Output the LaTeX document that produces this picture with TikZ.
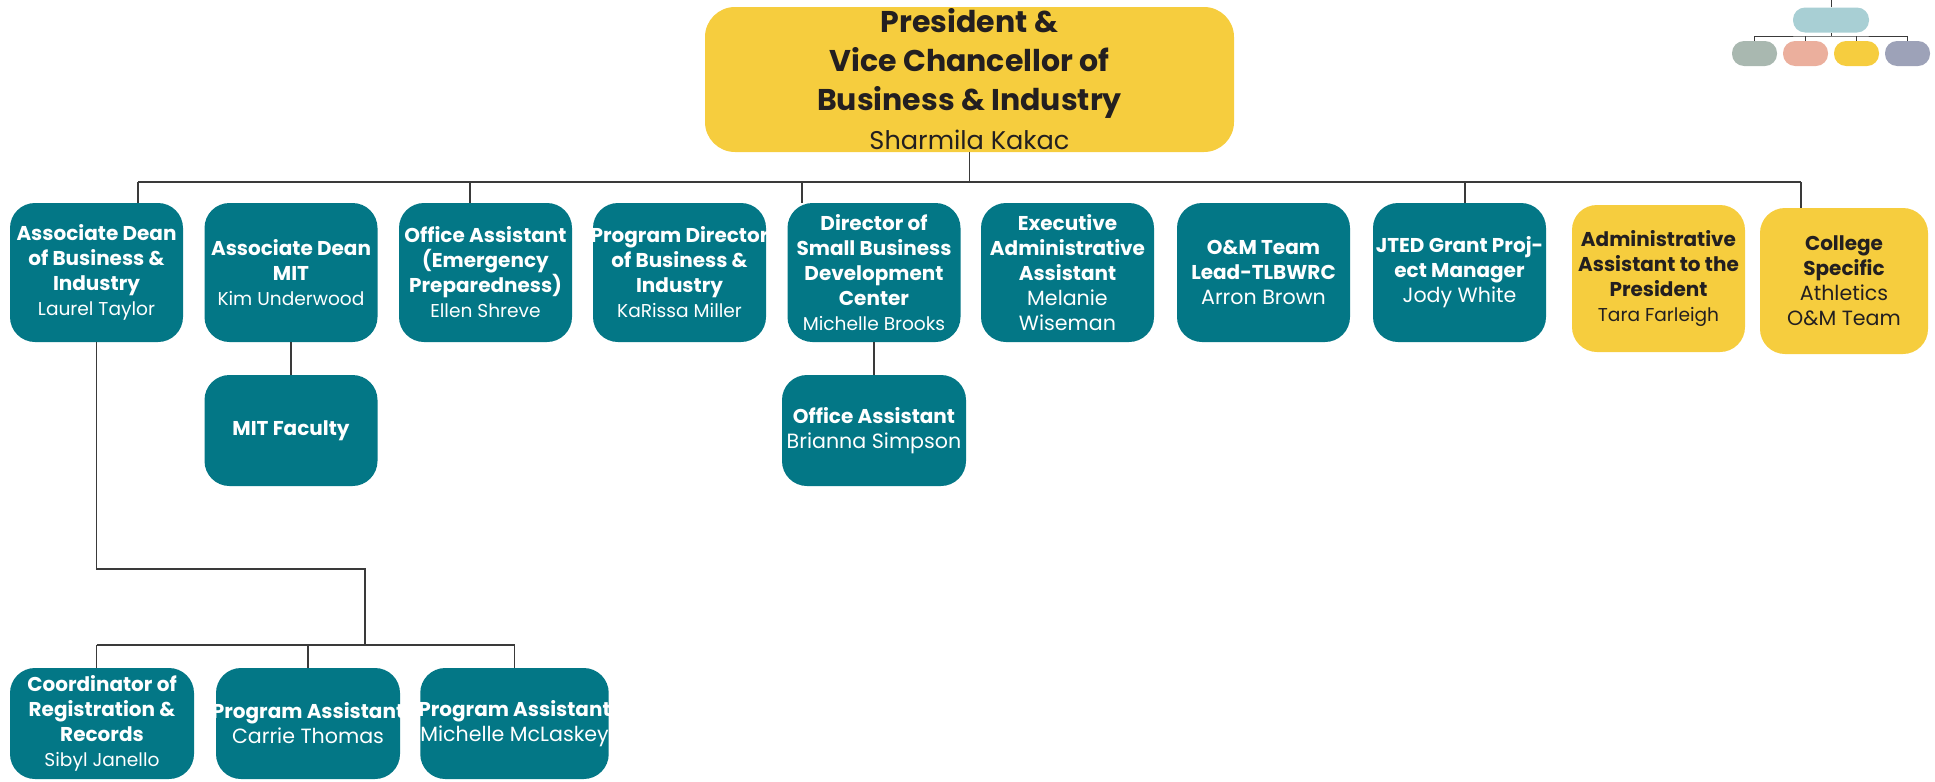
\documentclass[tikz,border=0pt]{standalone}
\usepackage{fontspec}
\setmainfont{Poppins}

\definecolor{tealC}{HTML}{037786}
\definecolor{yellowC}{HTML}{F6CD3E}
\definecolor{inkC}{HTML}{231F20}
\definecolor{lineC}{HTML}{3A3A3A}
\definecolor{lgTopC}{HTML}{A8CFD4}
\definecolor{lgAC}{HTML}{A9B8B0}
\definecolor{lgBC}{HTML}{EBAF9D}
\definecolor{lgCC}{HTML}{F6CD3F}
\definecolor{lgDC}{HTML}{9DA2B8}

\newcommand{\ttlfont}{\fontsize{10}{12.5}\selectfont\bfseries}
\newcommand{\who}[1]{{\fontsize{9.3}{12.5}\selectfont\mdseries #1}}
\newcommand{\whoB}[1]{{\fontsize{10.3}{12.5}\selectfont\mdseries #1}}
\newcommand{\snug}[1]{\makebox[0pt]{#1}}

\begin{document}
\begin{tikzpicture}[
  x=0.5pt, y=-0.5pt,
  box/.style={rounded corners=12.5pt, minimum width=86.5pt, minimum height=69.5pt,
    inner sep=0pt, align=center, font=\ttlfont},
  tealB/.style={box, fill=tealC, text=white},
  yellowB/.style={box, fill=yellowC, text=inkC},
  wideB/.style={minimum width=92pt, minimum height=55.5pt},
  presB/.style={rounded corners=15pt, fill=yellowC, text=inkC, minimum width=264.5pt,
    minimum height=72.5pt, inner sep=0pt, align=center,
    font=\fontsize{15}{19.5}\selectfont\bfseries},
  lgBox/.style={rounded corners=6pt, minimum width=22.5pt, minimum height=12.5pt, inner sep=0pt},
  e/.style={draw=lineC, line width=0.75pt},
  eL/.style={draw=lineC, line width=0.5pt}
]
\useasboundingbox (0,0) rectangle (1935,782);

% --- President ---
\node[presB] (pres) at (969.5,79.5) {President \&\\Vice Chancellor of\\Business \& Industry\\
  {\fontsize{12.8}{17}\selectfont\mdseries Sharmila Kakac}};

% --- first row ---
\node[tealB] (adBI)  at (96.5,272.5)  {Associate Dean\\of Business \&\\Industry\\\who{Laurel Taylor}};
\node[tealB] (adMIT) at (291,272.5)   {Associate Dean\\MIT\\\who{Kim Underwood}};
\node[tealB] (oaEP)  at (485.5,272.5) {Office Assistant\\(Emergency\\Preparedness)\\\who{Ellen Shreve}};
\node[tealB] (pdBI)  at (679.5,272.5) {\snug{Program Director}\\of Business \&\\Industry\\\who{KaRissa Miller}};
\node[tealB] (dSBDC) at (874,272.5)   {Director of\\Small Business\\Development\\Center\\\who{Michelle Brooks}};
\node[tealB] (eaa)   at (1067.5,272.5) {Executive\\Administrative\\Assistant\\\whoB{Melanie}\\\whoB{Wiseman}};
\node[tealB] (omLead) at (1263.5,272.5) {O\&M Team\\Lead-TLBWRC\\\whoB{Arron Brown}};
\node[tealB] (jted)  at (1459.5,272.5) {JTED Grant Proj-\\ect Manager\\\whoB{Jody White}};
\node[yellowB, minimum height=73.5pt] (aaPres) at (1658.5,278.5)
  {Administrative\\Assistant to the\\President\\\who{Tara Farleigh}};
\node[yellowB, minimum width=84pt, minimum height=73pt] (cSpec) at (1844,281)
  {College\\Specific\\\whoB{Athletics}\\\whoB{O\&M Team}};

% --- second row ---
\node[tealB, minimum height=55.5pt] (mitFac) at (291,430.5) {MIT Faculty};
\node[tealB, wideB] (oaSB) at (874,430.5) {Office Assistant\\\whoB{Brianna Simpson}};

% --- third row ---
\node[tealB, wideB] (coord) at (102,723.5) {Coordinator of\\Registration \&\\Records\\\who{Sibyl Janello}};
\node[tealB, wideB] (pa1)   at (308,723.5) {\snug{Program Assistant}\\\whoB{Carrie Thomas}};
\node[tealB, wideB] (pa2)   at (514.5,723.5) {\snug{Program Assistant}\\\whoB{Michelle McLaskey}};

% --- connectors ---
\coordinate (barL) at (138,182);
\coordinate (barR) at (1801,182);
\draw[e] (pres.south) -- (pres.south |- barL);
\draw[e] (barL) -- (barR);
\draw[e] (barL) -- (barL |- adBI.north);
\foreach \x/\n in {470/oaEP, 802/dSBDC, 1465/jted, 1801/cSpec}{
  \coordinate (drop) at (\x,182);
  \draw[e] (drop) -- (drop |- \n.north);
}
\draw[e] (adMIT) -- (mitFac);
\draw[e] (dSBDC) -- (oaSB);

\coordinate (elbow) at (365,569);
\coordinate (lowBar) at (365,645);
\draw[e] (adBI.south) |- (elbow) -- (lowBar);
\draw[e] (adBI.south |- lowBar) -- (pa2.north |- lowBar);
\draw[e] (adBI.south |- lowBar) -- (adBI.south |- coord.north);
\draw[e] (pa1.north |- lowBar) -- (pa1.north);
\draw[e] (pa2.north |- lowBar) -- (pa2.north);

% --- legend ---
\node[lgBox, fill=lgTopC, minimum width=38pt] (lgHead) at (1831,20) {};
\node[lgBox, fill=lgAC] (lgA) at (1754.5,53.5) {};
\node[lgBox, fill=lgBC] (lgB) at (1805.5,53.5) {};
\node[lgBox, fill=lgCC] (lgC) at (1856.5,53.5) {};
\node[lgBox, fill=lgDC] (lgD) at (1907.5,53.5) {};
\coordinate (lgBar) at (1831,36);
\draw[eL] (lgHead.north) -- ++(0,-8);
\draw[eL] (lgHead.south) -- (lgBar);
\draw[eL] (lgA.north) |- (lgBar) -| (lgD.north);
\foreach \n in {lgB,lgC}
  \draw[eL] (\n.north) -- (\n.north |- lgBar);

\end{tikzpicture}
\end{document}
